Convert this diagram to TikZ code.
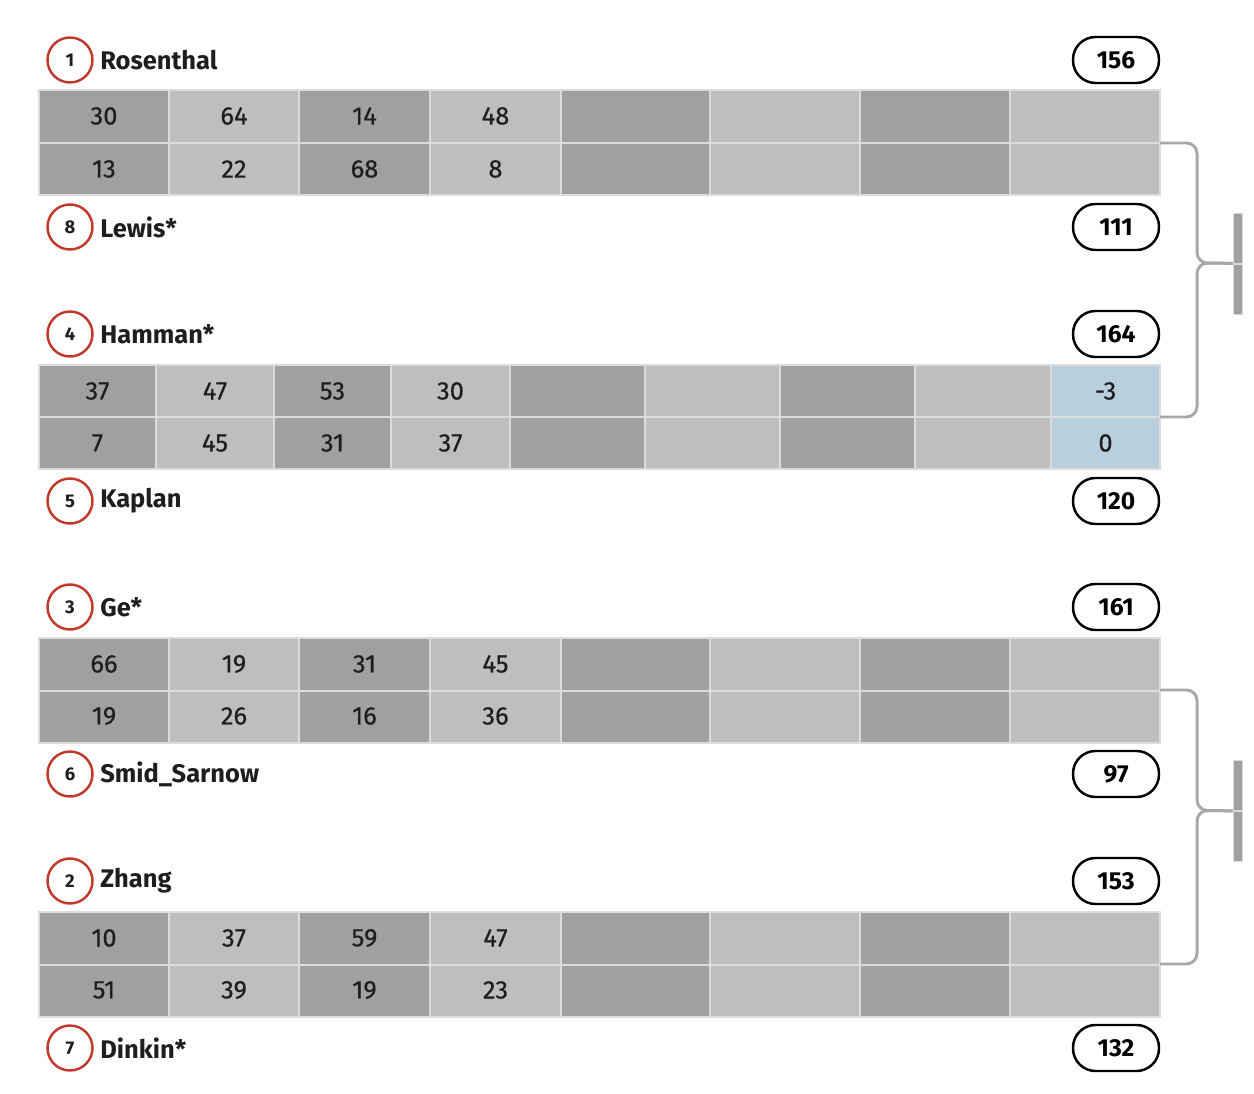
\documentclass[tikz,border=0pt]{standalone}
\usepackage{fontspec}
\setmainfont{Fira Sans}
\newfontfamily\cellfont[FakeBold=0.35]{Fira Sans}
\definecolor{cellA}{HTML}{A0A0A0}
\definecolor{cellB}{HTML}{BEBEBE}
\definecolor{cellC}{HTML}{B8D0DE}
\definecolor{cellline}{HTML}{DCDCDC}
\definecolor{seedred}{HTML}{C0392B}
\definecolor{ink}{HTML}{1E1E1E}
\definecolor{linkgray}{HTML}{A8A8A8}
\tikzset{
  seed/.style={draw=seedred, circle, line width=1.4pt, minimum size=0.9cm, inner sep=0pt,
    font=\fontsize{10.5}{10.5}\selectfont\bfseries, text=ink},
  player/.style={anchor=west, inner sep=0pt, font=\fontsize{14.5}{14.5}\selectfont\bfseries, text=ink},
  total/.style={draw=black, rounded corners=0.45cm, line width=1.4pt, minimum width=1.72cm,
    minimum height=0.92cm, inner sep=0pt, font=\fontsize{14}{14}\selectfont\bfseries},
  num/.style={inner sep=0pt, font=\fontsize{14.5}{14.5}\cellfont, text=ink},
  cell/.style={draw=cellline, line width=0.8pt},
  bracket/.style={draw=linkgray, line width=1.7pt, rounded corners=6pt},
  bar/.style={fill=cellA, draw=cellline, line width=0.4pt, minimum width=0.18cm, minimum height=1cm, inner sep=0pt}
}
\begin{document}
\begin{tikzpicture}[x=0.02cm, y=-0.02cm]
  \useasboundingbox (0,0) rectangle (1254,1094);
  % score tables, 8 columns
  \foreach \ty in {90,638,912} {
    \foreach \xa/\xb/\c in {39/169/cellA,169/299/cellB,299/430/cellA,430/561/cellB,
        561/710/cellA,710/860/cellB,860/1010/cellA,1010/1160/cellB}
      \filldraw[cell, fill=\c] (\xa,\ty) rectangle (\xb,{\ty+53}) (\xa,{\ty+53}) rectangle (\xb,{\ty+105});
  }
  % table with extra column
  \foreach \xa/\xb/\c in {39/156/cellA,156/274/cellB,274/391/cellA,391/510/cellB,510/645/cellA,
      645/780/cellB,780/915/cellA,915/1051/cellB,1051/1160/cellC}
    \filldraw[cell, fill=\c] (\xa,365) rectangle (\xb,417) (\xa,417) rectangle (\xb,469);

  % numbers
  \foreach \v/\x [count=\i] in {30/104,64/234,14/364.5,48/495.5}
    \node[num] (a\i) at (\x,116) {\v};
  \foreach \v/\x [count=\i] in {13/104,22/234,68/364.5,8/495.5}
    \node[num] (b\i) at (\x,169) {\v};
  \foreach \v/\x [count=\i] in {37/97.5,47/215,53/332.5,30/450.5,-3/1105.5}
    \node[num] (c\i) at (\x,391) {\v};
  \foreach \v/\x [count=\i] in {7/97.5,45/215,31/332.5,37/450.5,0/1105.5}
    \node[num] (d\i) at (\x,443) {\v};
  \foreach \v/\x [count=\i] in {66/104,19/234,31/364.5,45/495.5}
    \node[num] (e\i) at (\x,664) {\v};
  \foreach \v/\x [count=\i] in {19/104,26/234,16/364.5,36/495.5}
    \node[num] (f\i) at (\x,716) {\v};
  \foreach \v/\x [count=\i] in {10/104,37/234,59/364.5,47/495.5}
    \node[num] (g\i) at (\x,938) {\v};
  \foreach \v/\x [count=\i] in {51/104,39/234,19/364.5,23/495.5}
    \node[num] (h\i) at (\x,990) {\v};

  % players
  \foreach \s/\who/\pts/\y in {1/Rosenthal/156/60, 8/Lewis*/111/227, 4/Hamman*/164/334,
      5/Kaplan/120/501, 3/Ge*/161/607, 6/Smid\_Sarnow/97/774, 2/Zhang/153/881, 7/Dinkin*/132/1048} {
    \node[seed] (s\s) at (70,\y) {\s};
    \node[player] (n\s) at (100,\y) {\who};
    \node[total] (p\s) at (1116,\y) {\pts};
  }

  % next round
  \node[bar] (r1) at (1237.5,238) {};
  \node[bar] (r2) at (1237.5,289) {};
  \node[bar] (r3) at (1237.5,785.5) {};
  \node[bar] (r4) at (1237.5,836.5) {};
  \coordinate (k1) at (1160,143);
  \coordinate (k2) at (1160,417);
  \coordinate (k3) at (1160,690);
  \coordinate (k4) at (1160,964);
  \coordinate (j1) at (1197,263);
  \coordinate (j2) at (1197,810.5);
  \draw[bracket] (k1) -| (j1) -- (r1.south west);
  \draw[bracket] (k2) -| (j1) -- (r1.south west);
  \draw[bracket] (k3) -| (j2) -- (r3.south west);
  \draw[bracket] (k4) -| (j2) -- (r3.south west);
\end{tikzpicture}
\end{document}
